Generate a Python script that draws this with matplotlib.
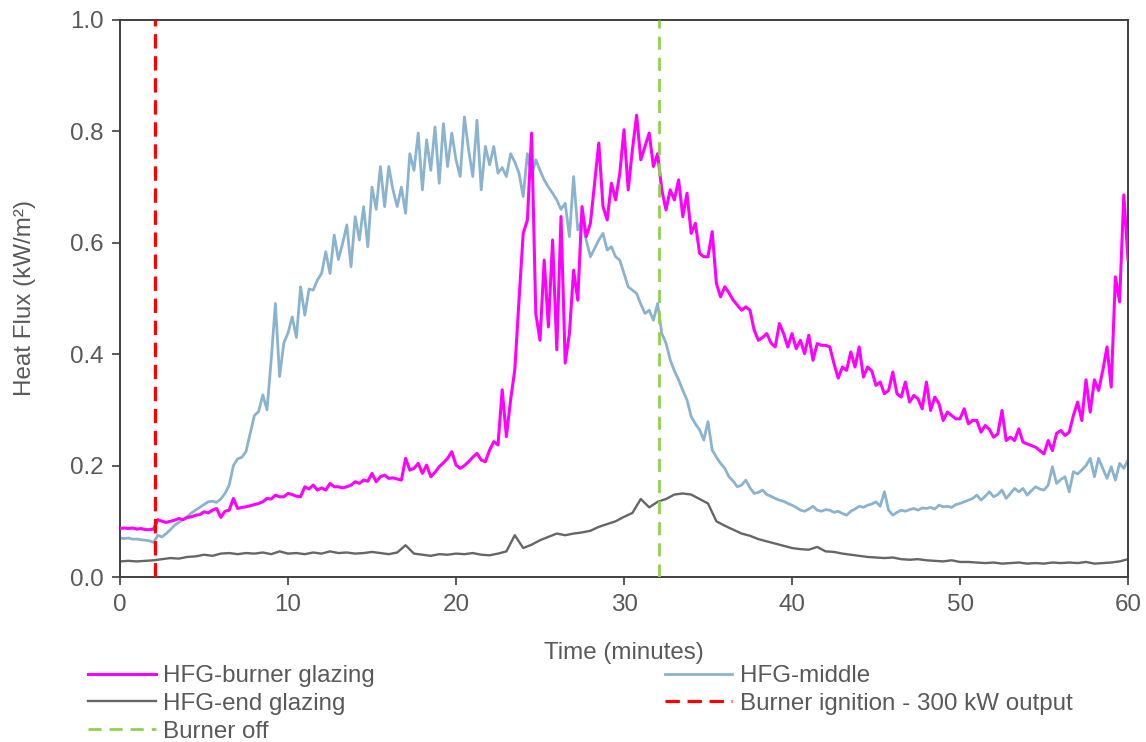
# %%
# Heat flux at the glazing gauges over the 60 min burner test
import numpy as np
import matplotlib.pyplot as plt

# %% Data (kW/m^2)
# burner glazing and middle gauges: every 0.25 min, end glazing: every 0.5 min
hfg_burner = [
    0.087, 0.088, 0.087, 0.088, 0.086, 0.087, 0.085, 0.085,
    0.086, 0.103, 0.100, 0.098, 0.100, 0.102, 0.105, 0.103,
    0.107, 0.108, 0.111, 0.112, 0.117, 0.115, 0.120, 0.123,
    0.107, 0.118, 0.120, 0.141, 0.123, 0.125, 0.126, 0.128,
    0.130, 0.132, 0.135, 0.141, 0.140, 0.147, 0.144, 0.144,
    0.150, 0.148, 0.145, 0.144, 0.162, 0.158, 0.165, 0.156,
    0.160, 0.156, 0.168, 0.162, 0.162, 0.160, 0.162, 0.165,
    0.171, 0.168, 0.174, 0.172, 0.186, 0.171, 0.180, 0.183,
    0.177, 0.178, 0.176, 0.174, 0.213, 0.192, 0.195, 0.204,
    0.186, 0.201, 0.180, 0.188, 0.198, 0.205, 0.213, 0.225,
    0.201, 0.195, 0.200, 0.207, 0.215, 0.222, 0.210, 0.207,
    0.228, 0.243, 0.237, 0.336, 0.252, 0.318, 0.372, 0.497,
    0.617, 0.641, 0.797, 0.473, 0.425, 0.569, 0.449, 0.605,
    0.408, 0.647, 0.384, 0.437, 0.551, 0.497, 0.665, 0.611,
    0.635, 0.707, 0.779, 0.665, 0.641, 0.707, 0.677, 0.725,
    0.803, 0.695, 0.767, 0.829, 0.749, 0.773, 0.797, 0.737,
    0.760, 0.695, 0.659, 0.695, 0.677, 0.713, 0.647, 0.689,
    0.617, 0.635, 0.581, 0.575, 0.575, 0.620, 0.527, 0.503,
    0.521, 0.510, 0.497, 0.488, 0.479, 0.485, 0.479, 0.443,
    0.425, 0.430, 0.437, 0.420, 0.413, 0.455, 0.437, 0.413,
    0.437, 0.410, 0.425, 0.401, 0.434, 0.389, 0.419, 0.416,
    0.416, 0.413, 0.383, 0.357, 0.377, 0.371, 0.404, 0.377,
    0.413, 0.359, 0.377, 0.370, 0.344, 0.350, 0.329, 0.335,
    0.368, 0.329, 0.323, 0.350, 0.314, 0.326, 0.320, 0.302,
    0.350, 0.299, 0.323, 0.311, 0.281, 0.296, 0.290, 0.284,
    0.284, 0.302, 0.275, 0.281, 0.281, 0.260, 0.272, 0.265,
    0.251, 0.257, 0.299, 0.245, 0.251, 0.245, 0.266, 0.242,
    0.239, 0.236, 0.233, 0.227, 0.221, 0.245, 0.227, 0.258,
    0.263, 0.254, 0.260, 0.290, 0.314, 0.281, 0.354, 0.296,
    0.354, 0.335, 0.371, 0.413, 0.341, 0.539, 0.494, 0.686,
    0.570,
]
hfg_middle = [
    0.070, 0.069, 0.070, 0.068, 0.068, 0.067, 0.066, 0.065,
    0.062, 0.075, 0.072, 0.078, 0.085, 0.093, 0.098, 0.103,
    0.108, 0.115, 0.120, 0.125, 0.130, 0.135, 0.136, 0.134,
    0.140, 0.150, 0.165, 0.200, 0.212, 0.215, 0.225, 0.258,
    0.290, 0.297, 0.327, 0.300, 0.390, 0.491, 0.360, 0.420,
    0.438, 0.467, 0.430, 0.521, 0.470, 0.517, 0.515, 0.533,
    0.545, 0.584, 0.545, 0.614, 0.570, 0.599, 0.632, 0.557,
    0.647, 0.605, 0.665, 0.593, 0.700, 0.660, 0.737, 0.665,
    0.737, 0.695, 0.665, 0.700, 0.653, 0.760, 0.730, 0.797,
    0.695, 0.785, 0.730, 0.808, 0.707, 0.814, 0.737, 0.797,
    0.749, 0.719, 0.826, 0.767, 0.719, 0.820, 0.695, 0.773,
    0.740, 0.773, 0.725, 0.735, 0.719, 0.760, 0.745, 0.725,
    0.683, 0.760, 0.720, 0.749, 0.730, 0.713, 0.700, 0.689,
    0.677, 0.660, 0.671, 0.611, 0.719, 0.623, 0.640, 0.605,
    0.575, 0.590, 0.605, 0.617, 0.587, 0.593, 0.575, 0.569,
    0.545, 0.521, 0.515, 0.509, 0.490, 0.473, 0.479, 0.461,
    0.491, 0.437, 0.420, 0.390, 0.370, 0.354, 0.335, 0.318,
    0.288, 0.275, 0.264, 0.246, 0.279, 0.228, 0.215, 0.204,
    0.195, 0.180, 0.172, 0.162, 0.165, 0.174, 0.160, 0.150,
    0.152, 0.156, 0.148, 0.145, 0.141, 0.138, 0.136, 0.132,
    0.129, 0.125, 0.120, 0.118, 0.122, 0.127, 0.120, 0.118,
    0.121, 0.120, 0.116, 0.118, 0.114, 0.111, 0.118, 0.122,
    0.127, 0.125, 0.129, 0.131, 0.135, 0.127, 0.153, 0.120,
    0.111, 0.116, 0.120, 0.118, 0.121, 0.123, 0.120, 0.124,
    0.123, 0.125, 0.122, 0.129, 0.126, 0.127, 0.125, 0.130,
    0.132, 0.135, 0.138, 0.141, 0.147, 0.138, 0.145, 0.153,
    0.144, 0.148, 0.156, 0.141, 0.150, 0.159, 0.153, 0.159,
    0.147, 0.155, 0.162, 0.158, 0.156, 0.165, 0.198, 0.168,
    0.175, 0.180, 0.153, 0.189, 0.185, 0.192, 0.200, 0.213,
    0.180, 0.213, 0.195, 0.177, 0.198, 0.174, 0.204, 0.195,
    0.210,
]
hfg_end = [
    0.028, 0.029, 0.028, 0.029, 0.030,
    0.032, 0.034, 0.033, 0.036, 0.037, 0.040,
    0.038, 0.042, 0.043, 0.041, 0.043, 0.042, 0.044, 0.041, 0.046, 0.042,
    0.043, 0.041, 0.044, 0.042, 0.046, 0.043, 0.044, 0.042, 0.043, 0.045,
    0.043, 0.041, 0.044, 0.057, 0.042, 0.040, 0.038, 0.041, 0.040, 0.042,
    0.041, 0.043, 0.040, 0.039, 0.042, 0.046, 0.075, 0.052, 0.058, 0.066,
    0.072, 0.078, 0.075, 0.078, 0.080, 0.083, 0.090, 0.095, 0.100, 0.108,
    0.115, 0.140, 0.125, 0.135, 0.140, 0.148, 0.150, 0.148, 0.140, 0.132,
    0.100, 0.092, 0.085, 0.078, 0.074, 0.068, 0.064, 0.060, 0.056, 0.052,
    0.050, 0.049, 0.054, 0.046, 0.045, 0.042, 0.040, 0.038, 0.036, 0.035,
    0.034, 0.035, 0.032, 0.031, 0.032, 0.030, 0.029, 0.028, 0.030, 0.027,
    0.027, 0.026, 0.025, 0.026, 0.024, 0.025, 0.026, 0.024, 0.025, 0.024,
    0.026, 0.025, 0.026, 0.025, 0.027, 0.024, 0.025, 0.026, 0.028, 0.032,
]
T_IGNITION = 2.07   # min
T_OFF = 32.1        # min

t_fine = np.linspace(0, 60, len(hfg_burner))
t_coarse = np.linspace(0, 60, len(hfg_end))

# %% Plot
plt.rcParams['font.family'] = ['Liberation Sans', 'DejaVu Sans']
plt.rcParams['font.size'] = 17.4
TXT = '#595959'

fig = plt.figure(figsize=(11.46, 7.42), dpi=100)
ax = fig.add_axes([120 / 1146, 1 - 577 / 742, 1008 / 1146, 557 / 742])

ax.plot(t_fine, hfg_burner, color='#FF00FF', lw=2.2, label='HFG-burner glazing', zorder=3)
ax.plot(t_coarse, hfg_end, color='#666666', lw=1.7, label='HFG-end glazing', zorder=2)
ax.plot(t_fine, hfg_middle, color='#8AB3CF', lw=2.0, label='HFG-middle', zorder=2)
ax.axvline(T_OFF, color='#92D050', lw=2.0, dashes=(4.7, 2.9), label='Burner off', zorder=4)
ax.axvline(T_IGNITION, color='#FF0000', lw=2.3, dashes=(4.5, 2.4),
           label='Burner ignition - 300 kW output', zorder=4)

ax.set_xlim(0, 60)
ax.set_ylim(0, 1.0)
ax.set_xticks(range(0, 61, 10))
ax.set_yticks(np.arange(0, 1.01, 0.2))
ax.yaxis.set_major_formatter(plt.FormatStrFormatter('%.1f'))
ax.tick_params(direction='out', length=6, width=1.2, colors='#404040',
               labelcolor=TXT, pad=6)
for s in ax.spines.values():
    s.set_color('#404040')
    s.set_linewidth(1.4)

ax.set_xlabel('Time (minutes)', color=TXT, labelpad=19)
ax.set_ylabel('Heat Flux (kW/m²)', color=TXT, labelpad=24)

h, l = ax.get_legend_handles_labels()
order = [0, 1, 3, 2, 4]   # col 1: burner, end, off ; col 2: middle, ignition
fig.legend([h[i] for i in order], [l[i] for i in order], ncol=2,
           loc='upper left', bbox_to_anchor=(88 / 1146, 1 - 665 / 742),
           frameon=False, borderpad=0, borderaxespad=0,
           handlelength=2.8, handletextpad=0.3, labelspacing=0.24,
           columnspacing=12.0, labelcolor=TXT)

fig.savefig('out.png', dpi=100)
